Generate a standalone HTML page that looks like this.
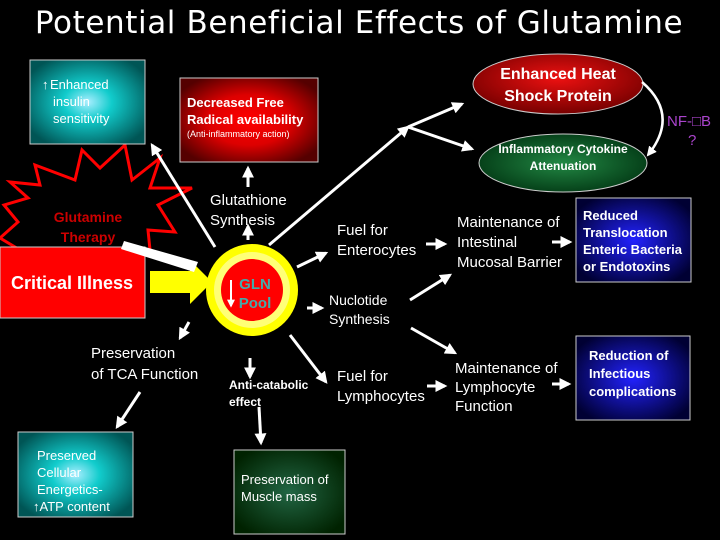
<!DOCTYPE html>
<html><head><style>
body{margin:0;background:#000;}
svg{display:block;}
text{font-family:"Liberation Sans",sans-serif;fill:#fff;}
</style></head><body>
<svg width="720" height="540" viewBox="0 0 720 540" xmlns="http://www.w3.org/2000/svg">
<defs>
<radialGradient id="teal" cx="50%" cy="50%" r="60%"><stop offset="0" stop-color="#aef"/><stop offset="0.35" stop-color="#1cc"/><stop offset="1" stop-color="#055"/></radialGradient>
<radialGradient id="red" cx="50%" cy="50%" r="60%"><stop offset="0" stop-color="#f00"/><stop offset="0.5" stop-color="#d00"/><stop offset="1" stop-color="#500"/></radialGradient>
<radialGradient id="blue" cx="50%" cy="50%" r="60%"><stop offset="0" stop-color="#22f"/><stop offset="1" stop-color="#003"/></radialGradient>
<radialGradient id="green" cx="50%" cy="50%" r="60%"><stop offset="0" stop-color="#264"/><stop offset="1" stop-color="#020"/></radialGradient>
<radialGradient id="ered" cx="50%" cy="40%" r="60%"><stop offset="0" stop-color="#e11"/><stop offset="1" stop-color="#700"/></radialGradient>
<radialGradient id="egreen" cx="50%" cy="50%" r="60%"><stop offset="0" stop-color="#284"/><stop offset="1" stop-color="#031"/></radialGradient>
<marker id="ah" viewBox="0 0 10 10" refX="8" refY="5" markerWidth="4" markerHeight="4" orient="auto"><path d="M0,0L10,5L0,10z" fill="#fff"/></marker>
</defs>
<text x="359" y="33" font-size="31" text-anchor="middle" letter-spacing="0.6" style="font-family:'DejaVu Sans',sans-serif">Potential Beneficial Effects of Glutamine</text>

<!-- star -->
<polygon points="35,165 75,180 82,150 100,168 125,145 132,180 160,158 150,188 192,188 158,205 175,232 148,230 150,250 20,250 0,238 18,222 4,205 28,198 10,182 40,185" fill="#000" stroke="#f00" stroke-width="3"/>
<text x="88" y="222" font-size="14" font-weight="bold" text-anchor="middle" style="fill:#c00">Glutamine</text>
<text x="88" y="242" font-size="14" font-weight="bold" text-anchor="middle" style="fill:#c00">Therapy</text>

<!-- boxes -->
<rect x="30" y="60" width="115" height="84" fill="url(#teal)" stroke="#ccc"/>
<text x="42" y="89" font-size="13" font-weight="bold">↑</text>
<text x="50" y="89" font-size="13">Enhanced</text>
<text x="53" y="106" font-size="13">insulin</text>
<text x="53" y="123" font-size="13">sensitivity</text>

<rect x="180" y="78" width="138" height="84" fill="url(#red)" stroke="#ccc"/>
<text x="187" y="107" font-size="13" font-weight="bold">Decreased  Free</text>
<text x="187" y="124" font-size="13" font-weight="bold">Radical availability</text>
<text x="187" y="137" font-size="9">(Anti-inflammatory action)</text>

<ellipse cx="558" cy="84" rx="85" ry="30" fill="url(#ered)" stroke="#ccc"/>
<text x="558" y="79" font-size="16" font-weight="bold" text-anchor="middle">Enhanced Heat</text>
<text x="558" y="101" font-size="16" font-weight="bold" text-anchor="middle">Shock Protein</text>
<ellipse cx="563" cy="163" rx="84" ry="29" fill="url(#egreen)" stroke="#ccc"/>
<text x="563" y="153" font-size="12" font-weight="bold" text-anchor="middle">Inflammatory Cytokine</text>
<text x="563" y="170" font-size="12" font-weight="bold" text-anchor="middle">Attenuation</text>
<path d="M642,82 Q680,115 648,155" fill="none" stroke="#fff" stroke-width="2.5" marker-end="url(#ah)"/>
<text x="667" y="126" font-size="15" style="fill:#a4c">NF-□B</text>
<text x="688" y="145" font-size="15" style="fill:#a4c">?</text>

<rect x="576" y="198" width="115" height="84" fill="url(#blue)" stroke="#ccc"/>
<text x="583" y="220" font-size="13" font-weight="bold">Reduced</text>
<text x="583" y="237" font-size="13" font-weight="bold">Translocation</text>
<text x="583" y="254" font-size="13" font-weight="bold">Enteric Bacteria</text>
<text x="583" y="271" font-size="13" font-weight="bold">or Endotoxins</text>

<rect x="576" y="336" width="114" height="84" fill="url(#blue)" stroke="#ccc"/>
<text x="589" y="360" font-size="13" font-weight="bold">Reduction of</text>
<text x="589" y="378" font-size="13" font-weight="bold">Infectious</text>
<text x="589" y="396" font-size="13" font-weight="bold">complications</text>

<rect x="18" y="432" width="115" height="85" fill="url(#teal)" stroke="#ccc"/>
<text x="37" y="460" font-size="13">Preserved</text>
<text x="37" y="477" font-size="13">Cellular</text>
<text x="37" y="494" font-size="13">Energetics-</text>
<text x="33" y="511" font-size="13">↑ATP content</text>

<rect x="234" y="450" width="111" height="84" fill="url(#green)" stroke="#ccc"/>
<text x="241" y="484" font-size="13">Preservation of</text>
<text x="241" y="501" font-size="13">Muscle mass</text>

<rect x="0" y="247" width="145" height="71" fill="#f00" stroke="#ccc"/>
<text x="72" y="289" font-size="18" font-weight="bold" text-anchor="middle">Critical Illness</text>

<!-- yellow arrow -->
<polygon points="150,271 190,271 190,260 212,282 190,304 190,293 150,293" fill="#ff0"/>
<polygon points="124,241 198,262 194,272 121,249" fill="#fff"/>

<!-- GLN pool -->
<circle cx="252" cy="290" r="46" fill="#ff0"/>
<circle cx="252" cy="290" r="38" fill="#ff7" />
<circle cx="252" cy="290" r="31" fill="#f00"/>
<text x="255" y="289" font-size="15" font-weight="bold" text-anchor="middle" style="fill:#4aa">GLN</text>
<text x="255" y="308" font-size="15" font-weight="bold" text-anchor="middle" style="fill:#4aa">Pool</text>
<line x1="231" y1="280" x2="231" y2="306" stroke="#fff" stroke-width="2" marker-end="url(#ah)"/>

<!-- labels -->
<text x="210" y="205" font-size="15">Glutathione</text>
<text x="210" y="225" font-size="15">Synthesis</text>
<text x="337" y="235" font-size="15">Fuel for</text>
<text x="337" y="255" font-size="15">Enterocytes</text>
<text x="329" y="305" font-size="14">Nuclotide</text>
<text x="329" y="324" font-size="14">Synthesis</text>
<text x="457" y="227" font-size="15">Maintenance of</text>
<text x="457" y="247" font-size="15">Intestinal</text>
<text x="457" y="267" font-size="15">Mucosal Barrier</text>
<text x="91" y="358" font-size="15">Preservation</text>
<text x="91" y="379" font-size="15">of TCA Function</text>
<text x="229" y="389" font-size="12" font-weight="bold">Anti-catabolic</text>
<text x="229" y="406" font-size="12" font-weight="bold">effect</text>
<text x="337" y="381" font-size="15">Fuel for</text>
<text x="337" y="401" font-size="15">Lymphocytes</text>
<text x="455" y="373" font-size="15">Maintenance of</text>
<text x="455" y="392" font-size="15">Lymphocyte</text>
<text x="455" y="411" font-size="15">Function</text>

<!-- arrows -->
<g stroke="#fff" stroke-width="3" marker-end="url(#ah)" fill="none">
<line x1="248" y1="187" x2="248" y2="168" />
<line x1="248" y1="240" x2="248" y2="226"/>
<line x1="215" y1="247" x2="152" y2="145"/>
<line x1="269" y1="245" x2="408" y2="127"/>
<line x1="408" y1="127" x2="462" y2="104"/>
<line x1="408" y1="127" x2="472" y2="149"/>
<line x1="297" y1="267" x2="326" y2="253"/>
<line x1="307" y1="308" x2="322" y2="308"/>
<line x1="426" y1="244" x2="445" y2="244"/>
<line x1="552" y1="242" x2="570" y2="242"/>
<line x1="410" y1="300" x2="450" y2="275"/>
<line x1="189" y1="322" x2="180" y2="338"/>
<line x1="250" y1="358" x2="250" y2="377"/>
<line x1="290" y1="335" x2="326" y2="382"/>
<line x1="411" y1="328" x2="455" y2="353"/>
<line x1="140" y1="392" x2="117" y2="427"/>
<line x1="259" y1="407" x2="261" y2="443"/>
<line x1="427" y1="386" x2="445" y2="386"/>
<line x1="552" y1="384" x2="569" y2="384"/>
</g>
</svg>
</body></html>
